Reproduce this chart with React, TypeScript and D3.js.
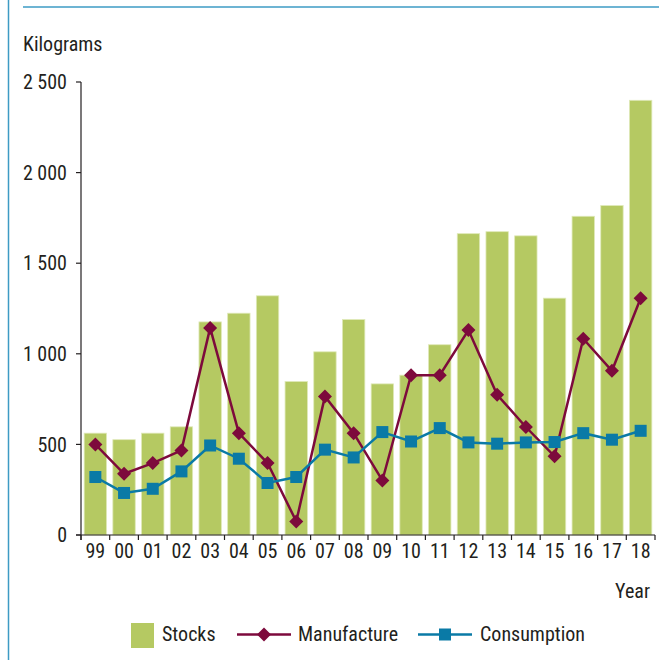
import React from "react";
import * as d3 from "d3";

const years = ["99","00","01","02","03","04","05","06","07","08","09","10","11","12","13","14","15","16","17","18"];
const stocks = [562,526,562,597,1176,1224,1320,847,1011,1189,834,882,1050,1663,1674,1651,1307,1759,1818,2399];
const manufacture = [500,338,397,467,1143,562,397,75,765,562,301,882,882,1131,774,596,434,1083,906,1307];
const consumption = [320,232,255,351,494,421,287,320,471,428,568,516,590,511,504,511,513,562,526,575];
const yTicks = [0,500,1000,1500,2000,2500];
const yTickLabels = ["0","500","1 000","1 500","2 000","2 500"];

const W = 659, H = 662;
const FONT = "'Liberation Sans Narrow', 'Arial Narrow', 'Roboto Condensed', 'DejaVu Sans Condensed', sans-serif";
const TEXT = "#231f20";
const GREEN = "#b5c962";
const MAROON = "#7d0a3c";
const BLUE = "#0a7aa6";
const FRAME = "#3d9bc4";

export default function App() {
  const x = d3.scaleBand<string>().domain(years).range([81, 655]).paddingInner(0.22).paddingOuter(0.11);
  const y = d3.scaleLinear().domain([0, 2500]).range([535, 82]);
  const step = x.step();
  const cx = (d: string) => (x(d) as number) + x.bandwidth() / 2;
  const boundaries = d3.range(years.length + 1).map(i => 81 + i * step);

  const lineGen = d3.line<number>().x((_, i) => cx(years[i])).y(v => y(v));
  const diamond = (px: number, py: number, r: number) =>
    `M${px},${py - r}L${px + r},${py}L${px},${py + r}L${px - r},${py}Z`;

  return (
    <svg width={W} height={H} style={{ position: "absolute", left: 0, top: 0 }} fontFamily={FONT}>
      <rect x={0} y={0} width={W} height={H} fill="#fff" />
      {/* frame */}
      <line x1={8.5} y1={0} x2={8.5} y2={660} stroke={FRAME} strokeWidth={1.5} />
      <line x1={23} y1={7} x2={W} y2={7} stroke={FRAME} strokeWidth={1.5} />

      <text x={23} y={51} fontSize={20} fill={TEXT}>Kilograms</text>

      {/* bars */}
      {stocks.map((v, i) => (
        <rect key={"b" + i} x={x(years[i])} y={y(v)} width={x.bandwidth()} height={y(0) - y(v)}
          fill={GREEN} stroke="#dfe9b8" strokeWidth={0.8} />
      ))}

      {/* y axis */}
      <line x1={81} y1={y(2500)} x2={81} y2={540} stroke={TEXT} strokeWidth={1.2} />
      {yTicks.map((t, i) => (
        <g key={"yt" + i}>
          <line x1={76} x2={81} y1={y(t)} y2={y(t)} stroke={TEXT} strokeWidth={1.2} />
          <text x={67} y={y(t)} dy="0.36em" textAnchor="end" fontSize={20} fill={TEXT}>{yTickLabels[i]}</text>
        </g>
      ))}

      {/* x axis */}
      <line x1={76} x2={655} y1={y(0)} y2={y(0)} stroke={TEXT} strokeWidth={1.2} />
      {boundaries.map((b, i) => (
        <line key={"xt" + i} x1={b} x2={b} y1={y(0)} y2={y(0) + 5} stroke={TEXT} strokeWidth={1.2} />
      ))}
      {years.map(d => (
        <text key={"xl" + d} x={cx(d)} y={558} textAnchor="middle" fontSize={20} fill={TEXT}>{d}</text>
      ))}
      <text x={650} y={598} textAnchor="end" fontSize={20} fill={TEXT}>Year</text>

      {/* manufacture */}
      <path d={lineGen(manufacture) || ""} fill="none" stroke={MAROON} strokeWidth={2.5} />
      {manufacture.map((v, i) => (
        <path key={"m" + i} d={diamond(cx(years[i]), y(v), 7)} fill={MAROON} />
      ))}

      {/* consumption */}
      <path d={lineGen(consumption) || ""} fill="none" stroke={BLUE} strokeWidth={2.5} />
      {consumption.map((v, i) => (
        <rect key={"c" + i} x={cx(years[i]) - 6} y={y(v) - 6} width={12} height={12} fill={BLUE} />
      ))}

      {/* legend */}
      <rect x={131} y={623} width={23} height={25} fill={GREEN} />
      <text x={162} y={641} fontSize={20} fill={TEXT}>Stocks</text>
      <line x1={237} x2={291} y1={634.5} y2={634.5} stroke={MAROON} strokeWidth={2.5} />
      <path d={diamond(264, 634.5, 7)} fill={MAROON} />
      <text x={298} y={641} fontSize={20} fill={TEXT}>Manufacture</text>
      <line x1={418} x2={472} y1={634.5} y2={634.5} stroke={BLUE} strokeWidth={2.5} />
      <rect x={439} y={628.5} width={12} height={12} fill={BLUE} />
      <text x={480} y={641} fontSize={20} fill={TEXT}>Consumption</text>
    </svg>
  );
}
